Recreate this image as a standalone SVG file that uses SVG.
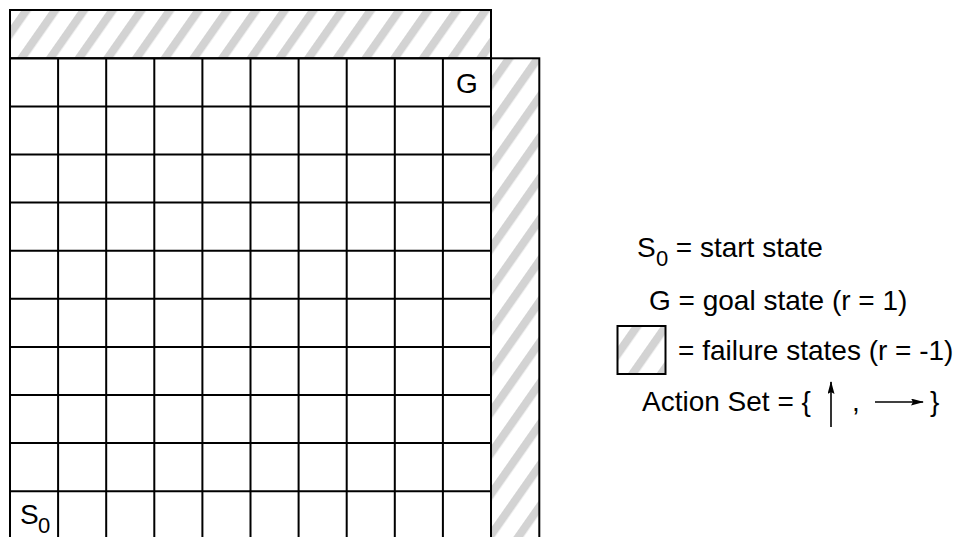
<svg xmlns="http://www.w3.org/2000/svg" width="958" height="537" viewBox="0 0 958 537">
  <style>
    text { font-family: "Liberation Sans", Arial, sans-serif; fill: #000; }
    .lbl { font-size: 28px; }
    .sub { font-size: 22px; }
    .grid { stroke: #000; stroke-width: 2; fill: none; }
    .hatch { fill: url(#hatch); stroke: #000; stroke-width: 2; }
    .arrow { stroke: #000; stroke-width: 1.6; marker-end: url(#ah); }
  </style>
  <defs>
    <pattern id="hatch" patternUnits="userSpaceOnUse" width="23.5" height="24" patternTransform="rotate(35)">
      <rect width="23.5" height="24" fill="#fff"/>
      <rect x="0" y="0" width="8.2" height="24" fill="#d3d3d3"/>
    </pattern>
    <marker id="ah" viewBox="0 0 13 7" refX="12" refY="3.5" markerWidth="13" markerHeight="7" markerUnits="userSpaceOnUse" orient="auto">
      <path d="M0,0 L13,3.5 L0,7 L2,3.5 z" fill="#000"/>
    </marker>
  </defs>
  <rect width="958" height="537" fill="#fff"/>

  <g id="failure-top">
    <rect class="hatch" x="10" y="10" width="481" height="48.3"/>
  </g>
  <g id="failure-right">
    <rect class="hatch" x="491" y="58.3" width="48.3" height="500"/>
  </g>

  <g id="grid">
    <path class="grid" d="M10,58.3 V560 M58.1,58.3 V560 M106.2,58.3 V560 M154.3,58.3 V560 M202.4,58.3 V560 M250.5,58.3 V560 M298.6,58.3 V560 M346.7,58.3 V560 M394.8,58.3 V560 M442.9,58.3 V560 M491,58.3 V560
      M10,58.3 H491 M10,106.4 H491 M10,154.5 H491 M10,202.6 H491 M10,250.7 H491 M10,298.8 H491 M10,346.9 H491 M10,395 H491 M10,443.1 H491 M10,491.2 H491 M10,539.3 H491"/>
  </g>

  <g id="goal">
    <text class="lbl" x="467" y="93" text-anchor="middle">G</text>
  </g>
  <g id="start">
    <text class="lbl" x="20" y="524">S</text>
    <text class="sub" x="38" y="533">0</text>
  </g>

  <g id="legend">
    <g id="legend-start">
      <text class="lbl" x="637" y="257">S</text>
      <text class="sub" x="656" y="266">0</text>
      <text class="lbl" x="668" y="257" xml:space="preserve"> = start state</text>
    </g>
    <g id="legend-goal">
      <text class="lbl" x="649" y="310">G = goal state (r = 1)</text>
    </g>
    <g id="legend-failure">
      <rect class="hatch" x="617.5" y="326" width="48" height="48"/>
      <text class="lbl" x="678" y="360">= failure states (r = -1)</text>
    </g>
    <g id="legend-actions">
      <text class="lbl" x="642" y="411">Action Set = {</text>
      <text class="lbl" x="852" y="411">,</text>
      <text class="lbl" x="930" y="411">}</text>
    </g>
  </g>

  <g id="connectors">
    <line class="arrow" x1="831" y1="427" x2="831" y2="382"/>
    <line class="arrow" x1="875" y1="402" x2="923" y2="402"/>
  </g>
</svg>
